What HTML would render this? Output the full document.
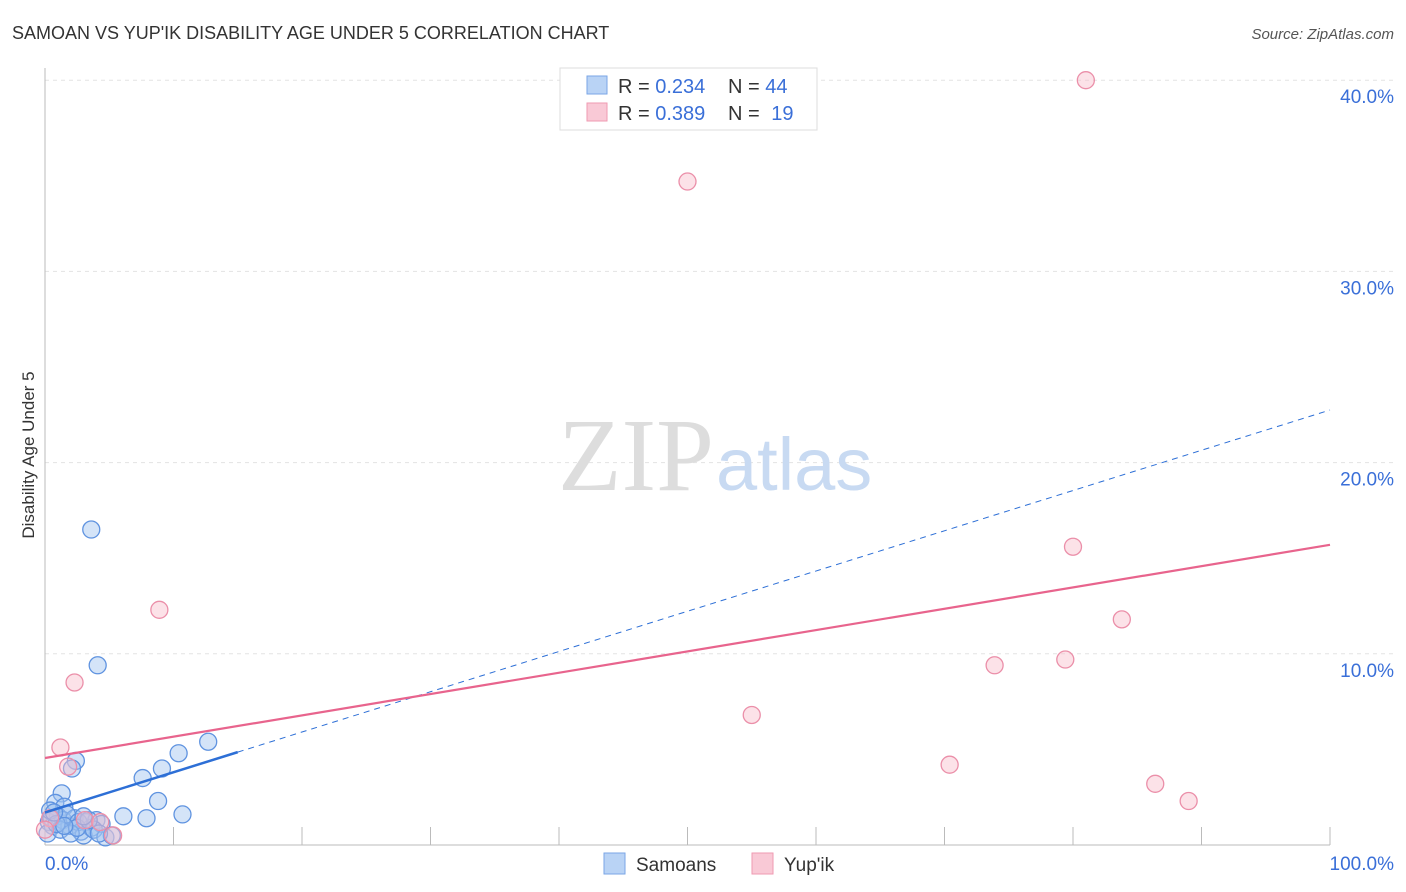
<!DOCTYPE html>
<html><head><meta charset="utf-8"><style>
body{margin:0;background:#fff;font-family:"Liberation Sans",sans-serif}
svg{display:block}
</style></head><body>
<svg width="1406" height="892">
<text x="12" y="39" font-size="18" fill="#333">SAMOAN VS YUP'IK DISABILITY AGE UNDER 5 CORRELATION CHART</text>
<text x="1394" y="39" font-size="15" fill="#555" font-style="italic" text-anchor="end">Source: ZipAtlas.com</text>
<g id="grid"></g>
<text x="714" y="490" font-size="104" fill="#ddd" font-family="Liberation Serif" text-anchor="end">ZIP</text>
<text x="716" y="490" font-size="74" fill="#c8daf2">atlas</text>
<g id="pts"></g>
<g id="lines"></g>
<text transform="translate(34,455) rotate(-90)" font-size="17" fill="#333" text-anchor="middle">Disability Age Under 5</text>
<g>
<rect x="560" y="68" width="257" height="62" fill="#fff" stroke="#ddd"/>
<rect x="587" y="76" width="20" height="18" fill="#b9d3f5" stroke="#7aa6e6"/>
<rect x="587" y="103" width="20" height="18" fill="#f9c9d6" stroke="#ef9ab2"/>
<text x="618" y="93" font-size="20" fill="#333">R = <tspan fill="#3a6fd8">0.234</tspan></text>
<text x="728" y="93" font-size="20" fill="#333">N = <tspan fill="#3a6fd8">44</tspan></text>
<text x="618" y="120" font-size="20" fill="#333">R = <tspan fill="#3a6fd8">0.389</tspan></text>
<text x="728" y="120" font-size="20" fill="#333">N = <tspan fill="#3a6fd8" dx="6">19</tspan></text>
</g>
<g>
<rect x="604" y="853" width="21" height="21" fill="#b9d3f5" stroke="#7aa6e6"/>
<text x="636" y="871" font-size="19" fill="#333">Samoans</text>
<rect x="752" y="853" width="21" height="21" fill="#f9c9d6" stroke="#ef9ab2"/>
<text x="784" y="871" font-size="19" fill="#333">Yup'ik</text>
</g>
</svg>
<script>
const xTicks=[0,10,20,30,40,50,60,70,80,90,100];
const yTicks=[10,20,30,40];
const samoanX=[3.6,4.1,12.7,10.4,9.1,7.6,2.4,2.1,8.8,10.7,6.1,7.9,1.3,0.8,1.5,0.3,0.6,1.0,1.4,1.9,2.3,2.8,3.2,3.6,4.0,4.4,0.2,0.5,1.2,1.7,2.6,3.0,3.8,4.7,5.2,0.4,0.9,2.0,2.5,3.4,4.2,1.5,0.7,3.0];
const samoanY=[16.5,9.4,5.4,4.8,4.0,3.5,4.4,4.0,2.3,1.6,1.5,1.4,2.7,2.2,2.0,1.2,1.0,1.5,1.3,1.0,1.4,0.7,1.2,0.9,1.3,1.1,0.6,1.4,0.8,1.6,1.2,0.5,0.8,0.4,0.5,1.8,1.1,0.6,0.9,1.3,0.6,1.0,1.7,1.5];
const yupikX=[81.0,50.0,80.0,8.9,83.8,2.3,73.9,79.4,55.0,1.2,70.4,86.4,89.0,1.8,5.3,3.1,0.4,4.3,0.0];
const yupikY=[40.0,34.7,15.6,12.3,11.8,8.5,9.4,9.7,6.8,5.1,4.2,3.2,2.3,4.1,0.5,1.3,1.4,1.2,0.8];
const blueLine=[1.7,22.75], blueEnd=15;
const pinkLine=[4.55,15.7];
const X=v=>45+v*12.85, Y=v=>845-v*19.12;
const NS='http://www.w3.org/2000/svg';
function mk(t,a,p){const e=document.createElementNS(NS,t);for(const k in a)e.setAttribute(k,a[k]);p.appendChild(e);return e;}
const g=document.getElementById('grid');
yTicks.forEach(v=>{
 const l=mk('line',{x1:45,x2:1394,y1:Y(v),y2:Y(v),stroke:'#e3e3e3','stroke-dasharray':'4,4'},g);
 
 
 const t=mk('text',{x:1394,y:Y(v)+23,'font-size':19,fill:'#3a6fd8','text-anchor':'end'},g);t.textContent=v.toFixed(1)+'%';
 
 
});
mk('line',{x1:45,x2:45,y1:68,y2:845,stroke:'#bbb'},g);
mk('line',{x1:45,x2:1330,y1:845,y2:845,stroke:'#bbb'},g);
xTicks.forEach(v=>{const l=mk('line',{x1:X(v),x2:X(v),y1:827,y2:845,stroke:'#bbb'},g);
 
 });
[[0,'0.0%','start',45],[100,'100.0%','end',1394]].forEach(([v,s,a,x])=>{const t=mk('text',{x:x,y:870,'font-size':19,fill:'#3a6fd8','text-anchor':a},g);t.textContent=s;
 
 });
const p=document.getElementById('pts');
samoanX.forEach((x,i)=>{const c=mk('circle',{cx:X(x),cy:Y(samoanY[i]),r:8.5,fill:'rgba(160,195,240,0.45)',stroke:'#5f93e0','stroke-width':1.3},p);
 
 });
yupikX.forEach((x,i)=>{const c=mk('circle',{cx:X(x),cy:Y(yupikY[i]),r:8.5,fill:'rgba(248,190,205,0.45)',stroke:'#eb8fa9','stroke-width':1.3},p);
 
 });
const L=document.getElementById('lines');
const by=v=>blueLine[0]+(blueLine[1]-blueLine[0])*v/100;
let a=mk('line',{x1:X(0),y1:Y(by(0)),x2:X(blueEnd),y2:Y(by(blueEnd)),stroke:'#2d6fd6','stroke-width':2.5},L);


a=mk('line',{x1:X(blueEnd),y1:Y(by(blueEnd)),x2:X(100),y2:Y(by(100)),stroke:'#2d6fd6','stroke-width':1,'stroke-dasharray':'6,5'},L);


a=mk('line',{x1:X(0),y1:Y(pinkLine[0]),x2:X(100),y2:Y(pinkLine[1]),stroke:'#e8648d','stroke-width':2.2},L);


</script>
</body></html>
